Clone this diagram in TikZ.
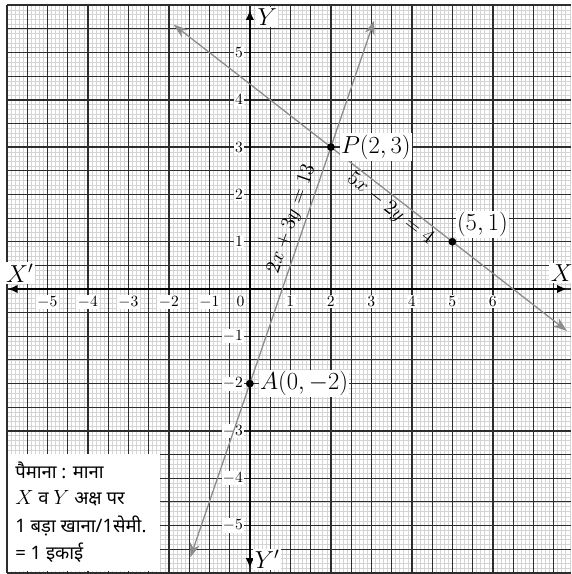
\documentclass[tikz,border=0pt]{standalone}
\usepackage{fontspec}
\newfontfamily\deva[Script=Devanagari]{Noto Sans}
\usetikzlibrary{arrows.meta}
\definecolor{minorc}{RGB}{212,212,212}
\definecolor{majorc}{RGB}{45,45,45}
\definecolor{linec}{RGB}{140,140,140}
\newcommand{\bigmath}[1]{{\fontsize{15}{17}\selectfont$#1$}}
\begin{document}
\begin{tikzpicture}[x=1cm,y=1.168cm,
  minorline/.style={draw=minorc,line width=0.4pt},
  halfline/.style={draw=majorc,line width=0.75pt},
  unitline/.style={draw=majorc,line width=1.0pt},
  axisline/.style={draw=black,line width=1.3pt,{Latex[length=7pt,width=6pt]}-{Latex[length=7pt,width=6pt]}},
  graphline/.style={draw=linec,line width=0.9pt,{Stealth[length=10pt,width=7pt]}-{Stealth[length=10pt,width=7pt]}},
  dot/.style={circle,fill=black,inner sep=0pt,minimum size=5.5pt},
  tick/.style={fill=white,inner sep=1pt,font=\fontsize{11}{13}\selectfont},
  biglbl/.style={fill=white,inner sep=1pt,font=\fontsize{17}{20}\selectfont},
  linelbl/.style={inner sep=0pt,font=\fontsize{14}{16}\selectfont},
  legend/.style={anchor=west,inner sep=0pt,font=\deva\fontsize{13}{15}\selectfont}]
\useasboundingbox[fill=white] (-6.17,-6.025) rectangle (7.93,6.11);
\begin{scope}
\clip (-6.17,-6.025) rectangle (7.93,6.11);
% minor grid
\foreach \i in {-60,...,79}{\path[minorline] (\i/10,-6) -- (\i/10,6);}
\foreach \j in {-60,...,60}{\path[minorline] (-6,\j/10) -- (7.93,\j/10);}
% half-unit lines
\foreach \i in {-11,-9,...,15}{\path[halfline] (\i/2,-6) -- (\i/2,6);}
\foreach \j in {-11,-9,...,11}{\path[halfline] (-6,\j/2) -- (7.93,\j/2);}
% unit lines
\foreach \i in {-6,...,7}{\path[unitline] (\i,-6) -- (\i,6);}
\foreach \j in {-6,...,6}{\path[unitline] (-6,\j) -- (7.93,\j);}
\end{scope}
% legend box
\fill[white] (-5.97,-5.97) rectangle (-2.22,-3.49);
\node[legend] (l1) at (-5.8,-3.83) {पैमाना : माना};
\node[legend] (l2) at (-5.8,-4.42) {\bigmath{X} व \bigmath{Y} अक्ष पर};
\node[legend] (l3) at (-5.8,-5.0) {1 बड़ा खाना/1सेमी.};
\node[legend] (l4) at (-5.8,-5.58) {= 1 इकाई};
% axes
\coordinate (xl) at (-5.98,0);
\coordinate (xr) at (7.83,0);
\coordinate (yt) at (0,5.9);
\coordinate (yb) at (0,-5.9);
\draw[axisline] (xl) -- (xr);
\draw[axisline] (yb) -- (yt);
% tick labels
\foreach \v in {-5,-4,-3,-2,-1,1,2,3,4,5,6}{\node[tick] (tx\v) at (\v,-0.27) {$\v$};}
\node[tick] (tx0) at (-0.23,-0.27) {$0$};
\foreach \v in {-5,-4,-3,-2,-1,1,2,3,4,5}{\node[tick,anchor=east] (ty\v) at (-0.13,\v) {$\v$};}
% axis labels
\node[biglbl] (Ylab) at (0.43,5.75) {$Y$};
\node[biglbl] (Yplab) at (0.43,-5.72) {$Y'$};
\node[biglbl] (Xplab) at (-5.68,0.34) {$X'$};
\node[biglbl] (Xlab) at (7.7,0.34) {$X$};
% graph lines
\coordinate (s1) at (-1.47,-5.675);
\coordinate (s2) at (3.07,5.675);
\coordinate (t1) at (-1.88,5.587);
\coordinate (t2) at (7.83,-0.887);
\draw[graphline] (s1) -- (s2);
\draw[graphline] (t1) -- (t2);
% line labels
\node[linelbl,rotate=71.1] (eq1) at (1.04,1.48) {$2x+3y=13$};
\node[linelbl,rotate=-37.9] (eq2) at (3.46,1.69) {$5x-2y=4$};
% points
\node[dot] (P) at (2,3) {};
\node[dot] (A) at (0,-2) {};
\node[dot] (Q) at (5,1) {};
\node[biglbl,anchor=west] (Plab) at ([xshift=3pt]P.east) {$P(2, 3)$};
\node[biglbl,anchor=west] (Alab) at ([xshift=3pt]A.east) {$A(0, -2)$};
\node[biglbl,anchor=south west] (Qlab) at (Q.north east) {$(5, 1)$};
\end{tikzpicture}
\end{document}
